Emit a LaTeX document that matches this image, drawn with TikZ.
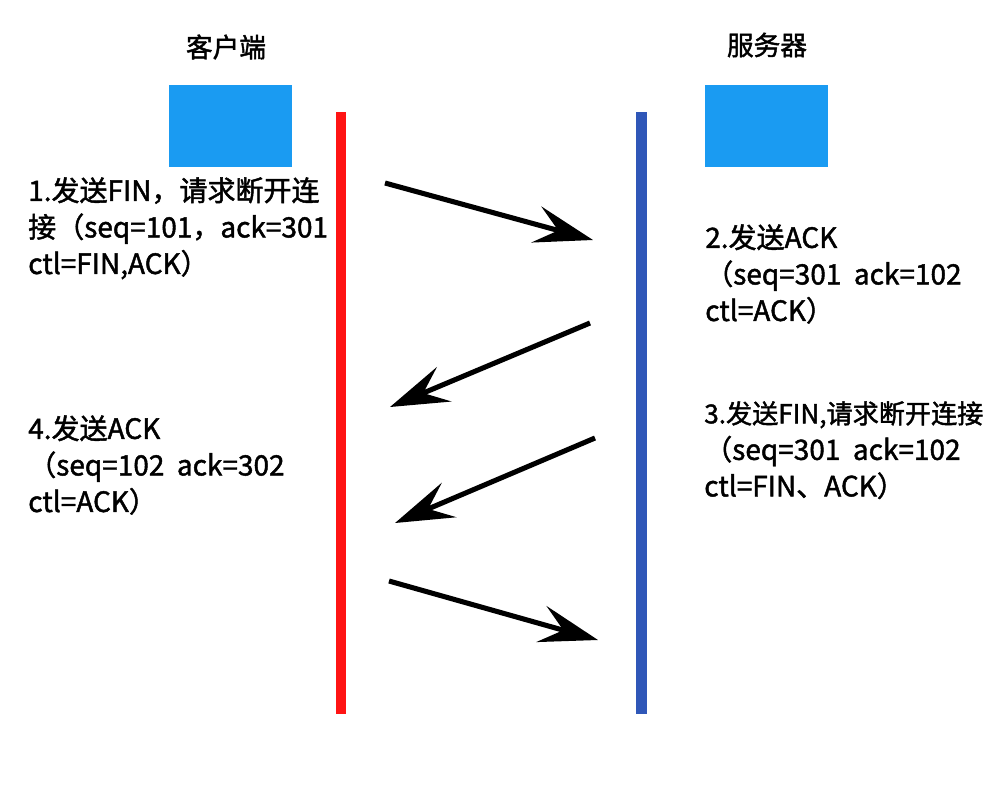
\documentclass[tikz,border=0pt]{standalone}
\usepackage{fontspec}
\setmainfont{Noto Sans CJK SC}[FakeBold=1.6]
\usetikzlibrary{arrows.meta}
\definecolor{boxblue}{HTML}{1A9BF2}
\definecolor{lifered}{HTML}{FF1414}
\definecolor{lifeblue}{HTML}{2F57B8}
\tikzset{
  msg/.style={line width=3.8pt, -{Stealth[length=44pt,width=28pt,inset=17pt]}},
  txt/.style={anchor=north west, inner sep=0pt, align=left, font=\fontsize{21pt}{27.4pt}\selectfont},
  ttl/.style={inner sep=0pt, font=\fontsize{20pt}{24pt}\selectfont},
}
\begin{document}
\begin{tikzpicture}[x=0.75pt,y=-0.75pt]
\useasboundingbox[fill=white] (0,0) rectangle (1000,800);
% titles
\node[ttl] (client) at (226,47) {客户端};
\node[ttl] (server) at (767,45) {服务器};
% boxes
\node[fill=boxblue, minimum width=92.25pt, minimum height=61.5pt, inner sep=0pt] (cbox) at (230.5,126) {};
\node[fill=boxblue, minimum width=92.25pt, minimum height=61.5pt, inner sep=0pt] (sbox) at (766.5,126) {};
% lifelines
\node[fill=lifered, minimum width=7.5pt, minimum height=451.5pt, inner sep=0pt] (cline) at (341,413) {};
\node[fill=lifeblue, minimum width=8.25pt, minimum height=451.5pt, inner sep=0pt] (sline) at (641.5,413) {};
% texts
\node[txt] (t1) at (28,177) {1.发送FIN，请求断开连\\接（seq=101，ack=301\\ctl=FIN,ACK）};
\node[txt] (t2) at (705,224) {2.发送ACK\\（seq=301~~ack=102\\ctl=ACK）};
\node[txt] (t3) at (704,401) {{\fontsize{19.6pt}{27.4pt}\selectfont 3.发送FIN,请求断开连接}\\（seq=301~~ack=102\\ctl=FIN、ACK）};
\node[txt] (t4) at (28,415) {4.发送ACK\\（seq=102~~ack=302\\ctl=ACK）};
% arrow endpoints
\coordinate (a1s) at (385,183); \coordinate (a1e) at (593,240);
\coordinate (a2s) at (590,323); \coordinate (a2e) at (390,407);
\coordinate (a3s) at (595,438); \coordinate (a3e) at (395,523);
\coordinate (a4s) at (389,581); \coordinate (a4e) at (598,640);
\draw[msg] (a1s) -- (a1e);
\draw[msg] (a2s) -- (a2e);
\draw[msg] (a3s) -- (a3e);
\draw[msg] (a4s) -- (a4e);
\end{tikzpicture}
\end{document}
